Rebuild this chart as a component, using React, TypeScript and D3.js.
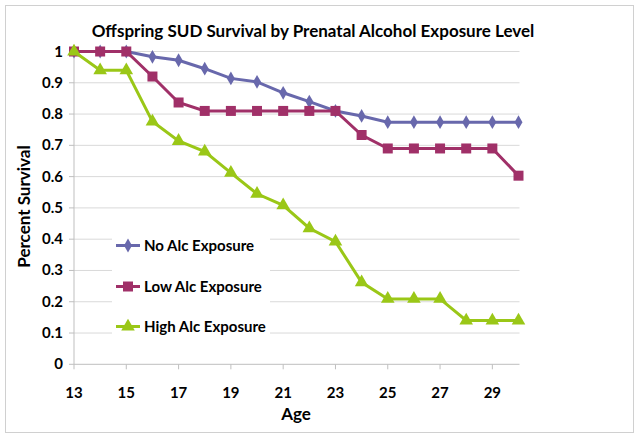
import React from "react";
import * as d3 from "d3";

const ages = [13, 14, 15, 16, 17, 18, 19, 20, 21, 22, 23, 24, 25, 26, 27, 28, 29, 30];
const noAlc = [1, 1, 1, 0.983, 0.972, 0.945, 0.914, 0.903, 0.868, 0.84, 0.81, 0.794, 0.774, 0.774, 0.774, 0.774, 0.774, 0.774];
const lowAlc = [1, 1, 1, 0.92, 0.837, 0.81, 0.81, 0.81, 0.81, 0.81, 0.81, 0.733, 0.69, 0.69, 0.69, 0.69, 0.69, 0.603];
const highAlc = [1, 0.94, 0.94, 0.776, 0.714, 0.68, 0.612, 0.545, 0.508, 0.435, 0.392, 0.262, 0.209, 0.209, 0.209, 0.14, 0.14, 0.14];
const xTicks = [13, 15, 17, 19, 21, 23, 25, 27, 29];
const yTicks = [0, 0.1, 0.2, 0.3, 0.4, 0.5, 0.6, 0.7, 0.8, 0.9, 1];

const series = [
  { name: "No Alc Exposure", values: noAlc, color: "#6868AC", shape: "diamond" },
  { name: "Low Alc Exposure", values: lowAlc, color: "#A03068", shape: "square" },
  { name: "High Alc Exposure", values: highAlc, color: "#9AC717", shape: "triangle" },
];

const font = "Lato, 'Open Sans', sans-serif";

const symbolFor = (shape: string) => {
  if (shape === "diamond") return d3.symbol().type(d3.symbolDiamond).size(55)();
  if (shape === "square") return d3.symbol().type(d3.symbolSquare).size(100)();
  return d3.symbol().type(d3.symbolTriangle).size(80)();
};

export default function App() {
  const left = 74, right = 518.5, top = 51.5, bottom = 364.3;
  const x = d3.scaleLinear().domain([13, 30]).range([left, right]);
  const y = d3.scaleLinear().domain([0, 1]).range([bottom, top]);
  const line = d3.line<number>().x((d, i) => x(ages[i])).y((d) => y(d));

  // legend rows (y centres)
  const legendRows = [245.5, 286.5, 326.5];

  return (
    <svg width={640} height={440} style={{ position: "absolute", left: 0, top: 0 }}>
      <rect x={0} y={0} width={640} height={440} fill="#fff" />
      <rect x={5.5} y={5.5} width={628} height={427} fill="#fff" stroke="#D0D0D0" strokeWidth={1} />
      <text x={313} y={37} textAnchor="middle" fontFamily={font} fontWeight="bold" fontSize={17} fill="#000">
        Offspring SUD Survival by Prenatal Alcohol Exposure Level
      </text>
      {yTicks.map((t) => (
        <g key={t}>
          {t > 0 && <line x1={left} x2={right + 1} y1={y(t)} y2={y(t)} stroke="#D9D9D9" strokeWidth={1} />}
          <line x1={left - 5} x2={left} y1={y(t)} y2={y(t)} stroke="#BFBFBF" />
          <text x={left - 11} y={y(t) + 5} textAnchor="end" fontFamily={font} fontWeight="bold" fontSize={15}>
            {d3.format("~g")(t)}
          </text>
        </g>
      ))}
      <line x1={left} x2={left} y1={top} y2={bottom} stroke="#BFBFBF" />
      <line x1={left} x2={right + 1} y1={bottom} y2={bottom} stroke="#BFBFBF" />
      {xTicks.map((t) => (
        <g key={t}>
          <line x1={x(t)} x2={x(t)} y1={bottom} y2={bottom + 5} stroke="#BFBFBF" />
          <text x={x(t)} y={398} textAnchor="middle" fontFamily={font} fontWeight="bold" fontSize={15}>
            {t}
          </text>
        </g>
      ))}
      <text x={296} y={420} textAnchor="middle" fontFamily={font} fontWeight="bold" fontSize={17}>
        Age
      </text>
      <text
        transform={`translate(30, ${(145 + 268) / 2}) rotate(-90)`}
        textAnchor="middle"
        fontFamily={font}
        fontWeight="bold"
        fontSize={17}
      >
        Percent Survival
      </text>
      {series.map((s) => (
        <g key={s.name}>
          <path d={line(s.values) || ""} fill="none" stroke={s.color} strokeWidth={3} />
          {s.values.map((v, i) => (
            <path key={i} d={symbolFor(s.shape) || ""} transform={`translate(${x(ages[i])}, ${y(v)})`} fill={s.color} />
          ))}
        </g>
      ))}
      <rect x={112} y={228} width={158} height={113} fill="#fff" />
      {series.map((s, i) => (
        <g key={s.name} transform={`translate(0, ${legendRows[i]})`}>
          <line x1={116} x2={140} y1={0} y2={0} stroke={s.color} strokeWidth={3} />
          <path d={symbolFor(s.shape) || ""} transform="translate(128, 0)" fill={s.color} />
          <text x={144} y={5.5} fontFamily={font} fontWeight="bold" fontSize={15}>
            {s.name}
          </text>
        </g>
      ))}
    </svg>
  );
}
